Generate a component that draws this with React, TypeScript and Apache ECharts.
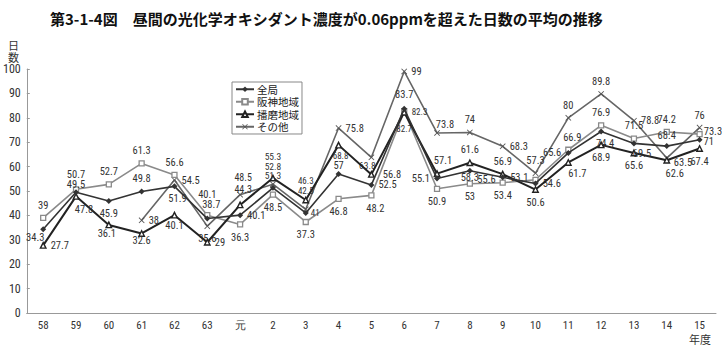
import React, { useEffect, useRef } from "react";
import * as echarts from "echarts";

const categories = ["58", "59", "60", "61", "62", "63", "元", "2", "3", "4", "5", "6", "7", "8", "9", "10", "11", "12", "13", "14", "15"];
const zenkyoku = [34.3, 49.5, 45.9, 49.8, 51.9, 38.7, 40.1, 51.3, 41, 57, 52.5, 83.7, 55.1, 58.3, 55.6, 53.1, 65.6, 74.4, 69.5, 68.4, 71];
const hanshin = [39, 50.7, 52.7, 61.3, 56.6, 40.1, 36.3, 48.5, 37.3, 46.8, 48.2, 82.7, 50.9, 53, 53.4, 54.6, 66.9, 76.9, 71.5, 74.2, 73.3];
const harima = [27.7, 47.8, 36.1, 32.6, 40.1, 29, 44.3, 55.3, 46.3, 68.8, 56.8, 82.3, 57.1, 61.6, 56.9, 50.6, 61.7, 68.9, 65.6, 62.6, 67.4];
const sonota = [null, null, null, 38, 54.5, 35.6, 48.5, 52.8, 42.5, 75.8, 63.8, 99, 73.8, 74, 68.3, 57.3, 80, 89.8, 78.8, 63.5, 76];
const yTicks = { min: 0, max: 100, interval: 10 };

// label layout: [position, dx, dy, fontSize]
type LP = [string, number?, number?, number?];
const posMap: Record<string, string> = { t: "top", b: "bottom", l: "left", r: "right" };

const zenLbl: LP[] = [["b", -8, -4], ["t", 0, 5], ["b"], ["t"], ["b", 3, 0], ["t", 4, -2], ["r"], ["t", 0, 0, 9.5], ["r", -2, 0, 9], ["t", 0, 4], ["r"], ["t", 0, -2], ["l"], ["b", 0, -6], ["l", 0, 2], ["l", 0, -6], ["l"], ["b", 4, 0], ["b", 8, -2], ["t", 0, 2], ["r", -3, 2]];
const hanLbl: LP[] = [["t"], ["t", 0, -2], ["t"], ["t"], ["t"], ["t", 0, -8], ["b"], ["b"], ["b"], ["b"], ["b", 4, 0], ["b", 0, 6, 9], ["b"], ["b"], ["b"], ["r", 0, 4], ["t", 4, 0], ["t"], ["t"], ["t"], ["r", -3, -3]];
const harLbl: LP[] = [["r"], ["b", 8, 0], ["b", -2, -4], ["b", 0, -6], ["b", 0, -3], ["r"], ["t", 3, -3, 10], ["t", 0, -9, 9.5], ["t", 0, -7, 9], ["b", 2, -1, 9], ["r", 4, 0], ["r", 0, 0, 9], ["t", 6, 0], ["t"], ["t"], ["b"], ["b", 9, -2], ["b"], ["b"], ["b", 8, 0], ["b"]];
const sonLbl: LP[] = [["t"], ["t"], ["t"], ["r"], ["r"], ["b"], ["t", 3, -5, 10], ["t", 0, -6, 9.5], ["t", 0, -7, 9], ["r"], ["b", -4, -4, 9.5], ["r"], ["t", 8, 4], ["t"], ["r"], ["t"], ["t"], ["t"], ["r"], ["r", 0, 4], ["t"]];

const FONT = "'Liberation Sans Narrow', 'Roboto Condensed', 'Liberation Sans', Arial, sans-serif";
const CJK = "'Noto Sans CJK JP', sans-serif";

function buildData(vals: (number | null)[], lbl: LP[]) {
  return vals.map((v, i) => {
    const [p, dx = 0, dy = 0, fs] = lbl[i];
    return {
      value: v,
      label: {
        position: posMap[p],
        offset: [dx, dy],
        ...(fs ? { fontSize: fs } : {}),
      },
    };
  });
}

const xPath = "path://M0,1L1,0L5,4L9,0L10,1L6,5L10,9L9,10L5,6L1,10L0,9L4,5Z";

export default function App() {
  const ref = useRef<HTMLDivElement>(null);
  useEffect(() => {
    document.body.style.margin = "0";
    if (!ref.current) return;
    const chart = echarts.init(ref.current, undefined, { renderer: "svg" });
    const baseLabel = { show: true, color: "#333", fontSize: 10.5, fontFamily: FONT, distance: 4 };
    chart.setOption({
      animation: false,
      backgroundColor: "#fff",
      title: {
        text: "第3-1-4図　昼間の光化学オキシダント濃度が0.06ppmを超えた日数の平均の推移",
        left: 45,
        top: 6,
        textStyle: { fontSize: 15, fontWeight: "bold", color: "#111", fontFamily: CJK },
      },
      legend: {
        orient: "vertical",
        left: 232,
        top: 82,
        itemWidth: 18,
        itemHeight: 7,
        itemGap: 2,
        padding: [2, 3, 2, 3],
        borderColor: "#888",
        borderWidth: 1,
        textStyle: { fontSize: 10.5, color: "#222", fontFamily: CJK, padding: [0, 0, 0, -2] },
        data: ["全局", "阪神地域", "播磨地域", "その他"],
      },
      grid: { left: 23, right: 9, top: 69, bottom: 33, containLabel: false },
      xAxis: {
        type: "category",
        data: categories,
        boundaryGap: true,
        axisLine: { lineStyle: { color: "#999" } },
        axisTick: { inside: true, length: 4, lineStyle: { color: "#999" } },
        axisLabel: { color: "#333", fontSize: 11, fontFamily: FONT, margin: 7 },
      },
      yAxis: {
        type: "value",
        min: yTicks.min,
        max: yTicks.max,
        interval: yTicks.interval,
        axisLine: { show: true, lineStyle: { color: "#999" } },
        axisTick: { show: true, inside: true, length: 3, lineStyle: { color: "#999" } },
        splitLine: { show: false },
        axisLabel: { color: "#333", fontSize: 12, fontFamily: FONT, margin: 6 },
      },
      graphic: [
        { type: "text", left: 8, top: 39, style: { text: "日\n数", fill: "#333", fontSize: 11, fontFamily: "Noto Sans CJK JP", lineHeight: 12 } },
        { type: "text", left: 689, top: 333, style: { text: "年度", fill: "#333", fontSize: 11, fontFamily: "Noto Sans CJK JP" } },
      ],
      series: [
        {
          name: "全局",
          type: "line",
          data: buildData(zenkyoku, zenLbl),
          symbol: "diamond",
          symbolSize: 6,
          lineStyle: { color: "#333", width: 1.6 },
          itemStyle: { color: "#333" },
          label: baseLabel,
          z: 4,
        },
        {
          name: "阪神地域",
          type: "line",
          data: buildData(hanshin, hanLbl),
          symbol: "rect",
          symbolSize: 5,
          lineStyle: { color: "#8a8a8a", width: 1.6 },
          itemStyle: { color: "#fff", borderColor: "#8a8a8a", borderWidth: 1.3 },
          label: baseLabel,
          z: 2,
        },
        {
          name: "播磨地域",
          type: "line",
          data: buildData(harima, harLbl),
          symbol: "triangle",
          symbolSize: 5.5,
          lineStyle: { color: "#222", width: 2 },
          itemStyle: { color: "#fff", borderColor: "#222", borderWidth: 1.4 },
          label: baseLabel,
          z: 3,
        },
        {
          name: "その他",
          type: "line",
          data: buildData(sonota, sonLbl),
          symbol: xPath,
          symbolSize: 6,
          lineStyle: { color: "#666", width: 1.6 },
          itemStyle: { color: "#555" },
          label: baseLabel,
          z: 1,
        },
      ],
    });
    return () => chart.dispose();
  }, []);
  return <div ref={ref} style={{ width: 725, height: 346 }} />;
}
